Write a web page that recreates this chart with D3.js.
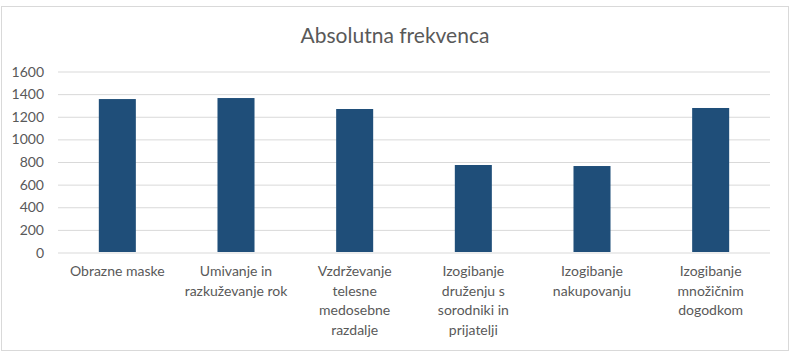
<!DOCTYPE html>
<html>
<head>
<meta charset="utf-8">
<script src="https://cdn.jsdelivr.net/npm/d3@7"></script>
<style>
  html, body { margin: 0; padding: 0; background: #fff; }
  svg { display: block; }
</style>
</head>
<body>
<svg id="chart" width="802" height="364"></svg>
<script>
const title = "Absolutna frekvenca";
const categories = [
  "Obrazne maske",
  "Umivanje in razkuževanje rok",
  "Vzdrževanje telesne medosebne razdalje",
  "Izogibanje druženju s sorodniki in prijatelji",
  "Izogibanje nakupovanju",
  "Izogibanje množičnim dogodkom"
];
const labelLines = [
  ["Obrazne maske"],
  ["Umivanje in", "razkuževanje rok"],
  ["Vzdrževanje", "telesne", "medosebne", "razdalje"],
  ["Izogibanje", "druženju s", "sorodniki in", "prijatelji"],
  ["Izogibanje", "nakupovanju"],
  ["Izogibanje", "množičnim", "dogodkom"]
];
const values = [1352, 1361, 1264, 769, 760, 1273];
const yTicks = [0, 200, 400, 600, 800, 1000, 1200, 1400, 1600];

const svg = d3.select("#chart");
const font = "Lato, 'Open Sans', sans-serif";
const textColor = "#595959";

// outer border
svg.append("rect")
  .attr("x", 1.5).attr("y", 6.5)
  .attr("width", 787).attr("height", 344)
  .attr("fill", "#fff")
  .attr("stroke", "#d9d9d9").attr("stroke-width", 1);

const x = d3.scaleBand().domain(categories).range([58, 770]).paddingInner(0.688).paddingOuter(0.344);
const y = d3.scaleLinear().domain([0, 1600]).range([252, 71]);

// gridlines
const yAxis = d3.axisLeft(y).tickValues(yTicks).tickSize(-(770 - 58)).tickFormat(d => d);
const gy = svg.append("g").attr("transform", "translate(58,0)").call(yAxis);
gy.select(".domain").remove();
gy.selectAll(".tick line").attr("stroke", "#d9d9d9").attr("stroke-width", 1)
  .attr("transform", "translate(0,0.5)");
gy.selectAll(".tick text")
  .attr("x", -14)
  .attr("dy", "0.36em")
  .attr("fill", textColor)
  .style("font-family", font)
  .style("font-size", "14px");

// bars
svg.append("g").selectAll("rect")
  .data(values)
  .join("rect")
  .attr("x", (d, i) => x(categories[i]))
  .attr("width", x.bandwidth())
  .attr("y", d => y(d))
  .attr("height", d => y(0) - y(d))
  .attr("fill", "#1F4E79");

// category labels
const gx = svg.append("g");
categories.forEach((c, i) => {
  const cx = x(c) + x.bandwidth() / 2;
  const t = gx.append("text")
    .attr("x", cx).attr("y", 276)
    .attr("text-anchor", "middle")
    .attr("fill", textColor)
    .style("font-family", font)
    .style("font-size", "14px");
  labelLines[i].forEach((line, j) => {
    t.append("tspan").attr("x", cx).attr("dy", j === 0 ? 0 : 19.5).text(line);
  });
});

// title
svg.append("text")
  .attr("x", 395).attr("y", 43)
  .attr("text-anchor", "middle")
  .attr("fill", textColor)
  .style("font-family", font)
  .style("font-size", "21px")
  .text(title);
</script>
</body>
</html>
